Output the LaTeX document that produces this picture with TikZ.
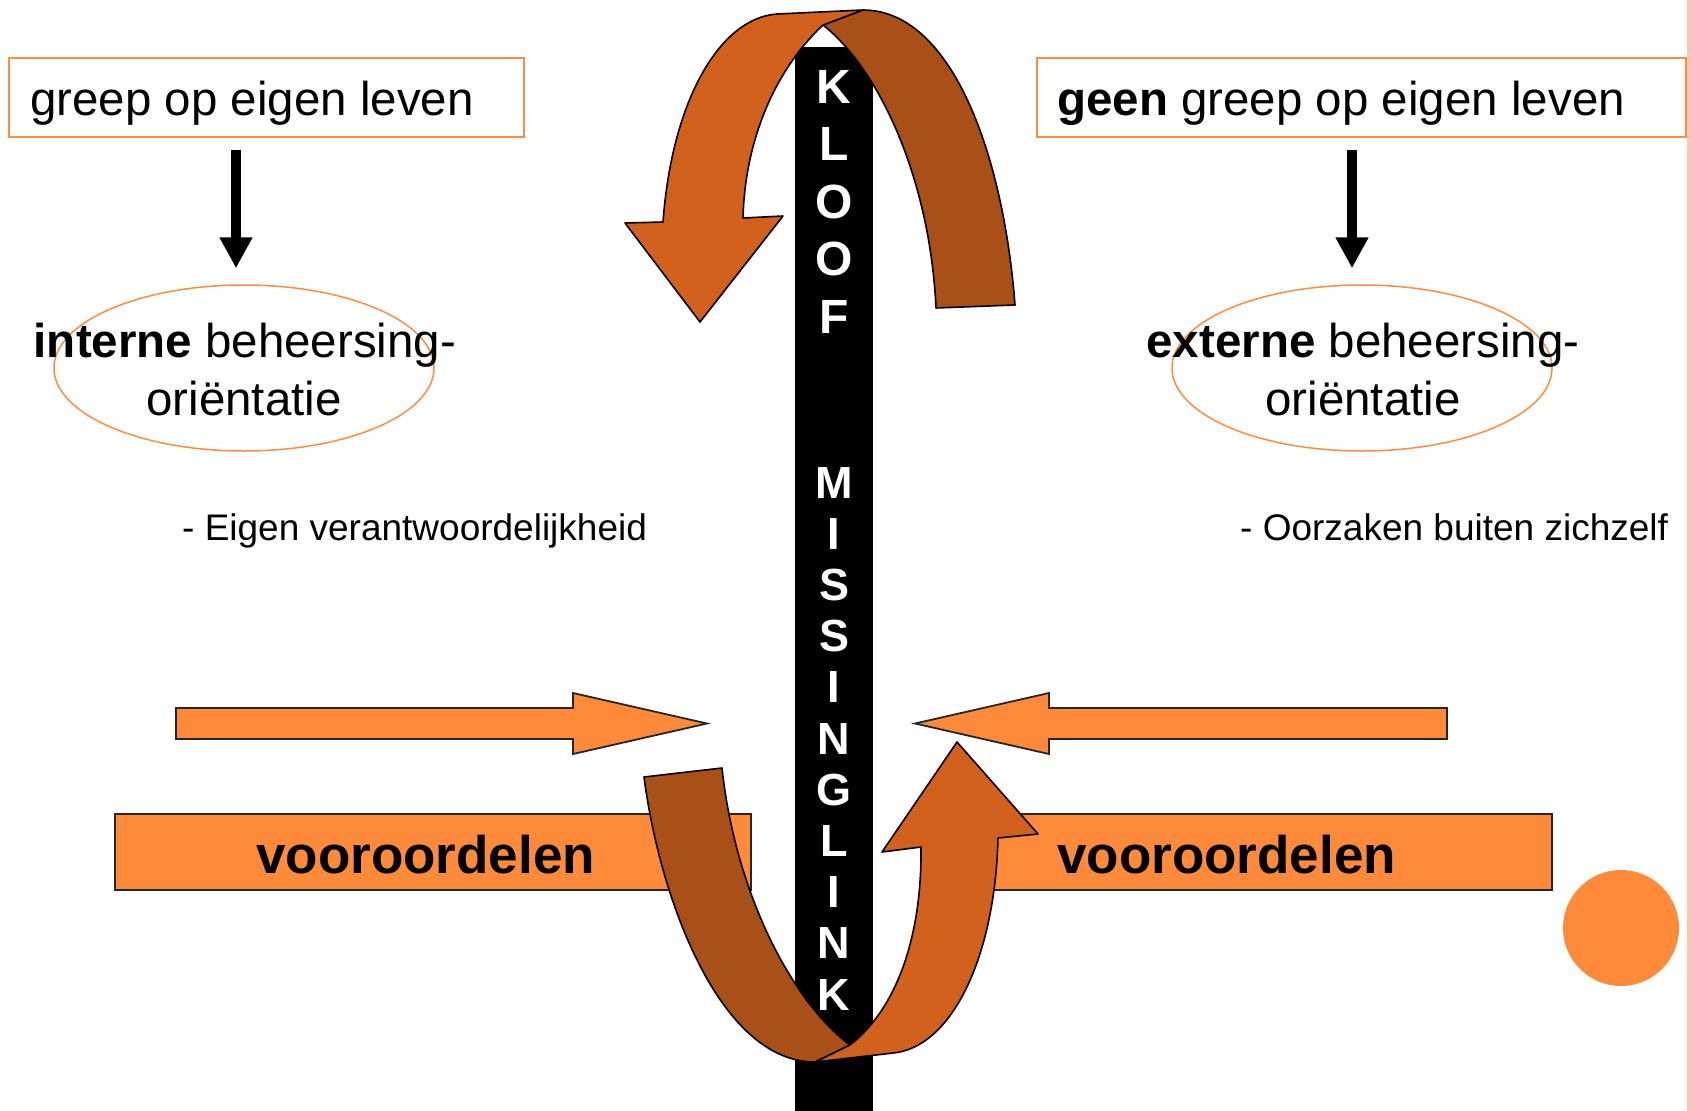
\documentclass[tikz,border=0pt]{standalone}
\usepackage{fontspec}
\setmainfont{Liberation Sans}
\usetikzlibrary{arrows.meta,shapes.geometric}
\definecolor{lor}{RGB}{255,138,58}
\definecolor{dor}{RGB}{210,97,30}
\definecolor{brn}{RGB}{168,80,24}
\definecolor{pnk}{RGB}{252,198,178}
\definecolor{bord}{RGB}{255,140,64}
\begin{document}
\begin{tikzpicture}[x=1pt,y=-1pt,
  obox/.style={draw=bord, line width=1.8pt, rectangle, inner sep=0pt},
  oell/.style={draw=bord, line width=1.5pt, ellipse, inner sep=0pt, minimum width=380pt, minimum height=166pt},
  bigtxt/.style={font=\fontsize{47.5}{57}\selectfont, inner sep=0pt},
  smalltxt/.style={font=\fontsize{37}{44}\selectfont, inner sep=0pt},
  vtxt/.style={font=\bfseries\fontsize{53}{60}\selectfont, inner sep=0pt},
  vbox/.style={fill=lor, draw=black!85, line width=1.8pt, rectangle, inner sep=0pt, minimum height=76pt},
  dnarrow/.style={line width=10pt, -{Triangle[length=31pt,width=31pt]}, shorten <=12pt, shorten >=16pt},
  blockarrow/.style={fill=lor, draw=black!85, line width=1.8pt, line join=miter},
  ltr/.style={text=white, font=\bfseries\fontsize{45}{45}\selectfont, inner sep=0pt},
  ltrbig/.style={text=white, font=\bfseries\fontsize{48}{48}\selectfont, inner sep=0pt},
  curv/.style={draw=black, line width=1.6pt, line join=round}
]
% background and bounding box
\fill[white] (0,0) rectangle (1692,1111);
\useasboundingbox (0,0) rectangle (1692,1111);
\fill[pnk] (1687,0) rectangle (1692,1111);

% top boxes
\node[obox, minimum width=515pt, minimum height=79pt] (lbox) at (266.5,97.5) {};
\node[bigtxt, anchor=base west] (ltop) at (30,115) {greep op eigen leven};
\node[obox, minimum width=649pt, minimum height=79pt] (rbox) at (1361.5,97.5) {};
\node[bigtxt, anchor=base west] (rtop) at (1057,115) {\textbf{geen} greep op eigen leven};

% ellipses
\node[oell] (lell) at (244,368) {};
\node[oell] (rell) at (1362,368) {};
\node[bigtxt, anchor=base] (lel1) at (245,357) {\textbf{interne} beheersing-};
\node[bigtxt, anchor=base] (lel2) at (244,415) {oriëntatie};
\node[bigtxt, anchor=base] (rel1) at (1363,357) {\textbf{externe} beheersing-};
\node[bigtxt, anchor=base] (rel2) at (1363,415) {oriëntatie};

% down arrows
\coordinate (la) at (236,0);
\coordinate (ra) at (1352,0);
\draw[dnarrow] (lbox.south -| la) -- (lell.north -| la);
\draw[dnarrow] (rbox.south -| ra) -- (rell.north -| ra);

% small texts
\node[smalltxt, anchor=base west] (lsub) at (182,540) {- Eigen verantwoordelijkheid};
\node[smalltxt, anchor=base west] (rsub) at (1240,540) {- Oorzaken buiten zichzelf};

% horizontal block arrows
\filldraw[blockarrow] (176,708) -- (573,708) -- (573,693) -- (707,723.5) -- (573,754) -- (573,739) -- (176,739) -- cycle;
\filldraw[blockarrow] (1447,708) -- (1049,708) -- (1049,693) -- (915,723.5) -- (1049,754) -- (1049,739) -- (1447,739) -- cycle;

% vooroordelen boxes
\node[vbox, minimum width=636pt] (lv) at (433,852) {};
\node[vtxt, anchor=base west] (lvt) at (256,873) {vooroordelen};
\node[vbox, minimum width=617pt] (rv) at (1243.5,852) {};
\node[vtxt, anchor=base west] (rvt) at (1057,873) {vooroordelen};

% circle
\node[circle, fill=lor, minimum size=116pt, inner sep=0pt] (dot) at (1621,928) {};

% black bar with letters
\node[fill=black, minimum width=78pt, minimum height=1064pt, inner sep=0pt, anchor=north] (bar) at (834,47) {};
\foreach \c [count=\i from 0] in {K,L,O,O,F}
  \node[ltrbig, anchor=base] (k\i) at (834,{103+57.5*\i}) {\c};
\foreach \c [count=\i from 0] in {M,I,S,S,I,N,G,L,I,N,K}
  \node[ltr, anchor=base] (m\i) at (834,{498+51.2*\i}) {\c};

% top curved arrow: back (brown) part
\filldraw[curv, fill=brn] (936,308) -- (1015,305)
  .. controls (1003,150) and (950,10) .. (863,10)
  -- (823,25)
  .. controls (880,70) and (930,180) .. (936,308) -- cycle;
% top curved arrow: front (orange) part
\filldraw[curv, fill=dor] (823,25) -- (863,10) -- (777,14)
  .. controls (720,18) and (672,100) .. (663,222)
  -- (625,223) -- (700,322) -- (783,216) -- (743,218)
  .. controls (745,140) and (775,70) .. (823,25) -- cycle;

% bottom curved arrow: back (brown) part
\filldraw[curv, fill=brn] (722,768) -- (644,777)
  .. controls (660,900) and (720,1062) .. (815,1062)
  -- (850,1045)
  .. controls (790,1000) and (735,890) .. (722,768) -- cycle;
% bottom curved arrow: front (orange) part
\filldraw[curv, fill=dor] (850,1045) -- (815,1062) -- (893,1053)
  .. controls (950,1048) and (995,960) .. (998,838)
  -- (1038,834) -- (957,742) -- (882,852) -- (921,847)
  .. controls (922,940) and (895,1010) .. (850,1045) -- cycle;
\end{tikzpicture}
\end{document}
